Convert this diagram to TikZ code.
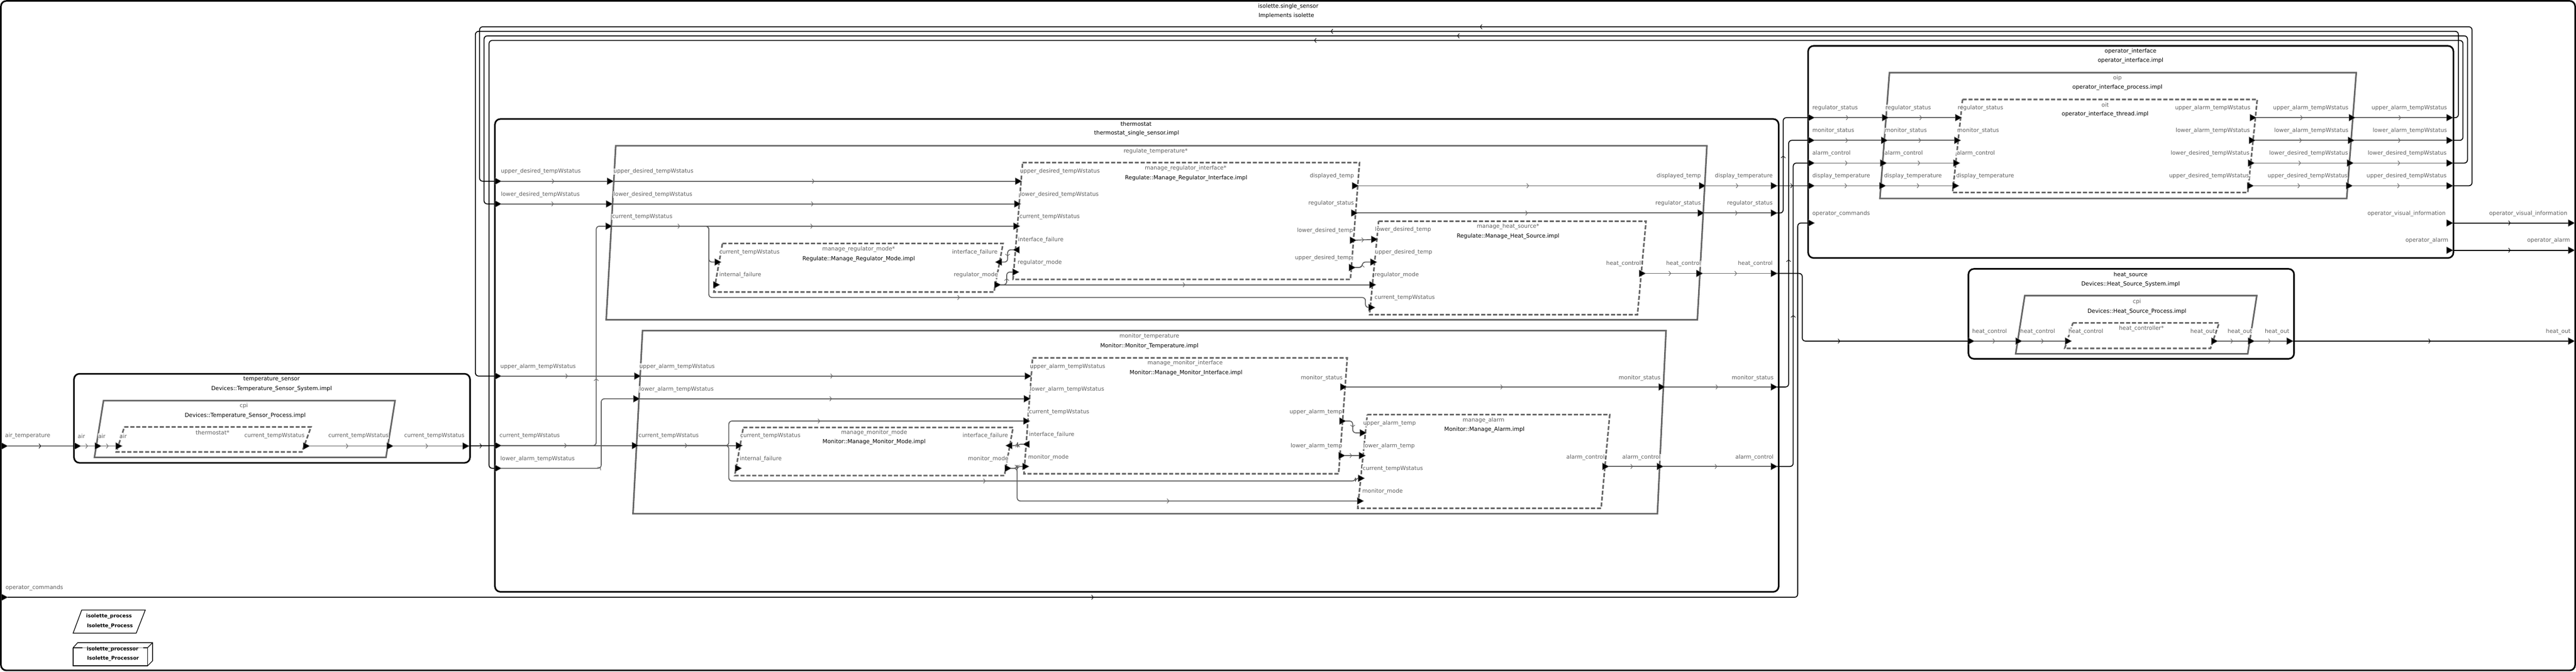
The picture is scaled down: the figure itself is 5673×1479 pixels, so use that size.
\documentclass[tikz,border=0pt]{standalone}
\usepackage{fontspec}
\setmainfont{DejaVu Sans}
\usetikzlibrary{arrows.meta,decorations.markings}
\definecolor{pg}{HTML}{666666}
\definecolor{lg}{HTML}{5E5E5E}
\tikzset{
 sysbox/.style={draw=black,line width=3.5,rounded corners=12},
 procbox/.style={draw=pg,line width=3.5},
 thrbox/.style={draw=pg,line width=3.5,dash pattern=on 9pt off 4pt},
 midarrow/.style={postaction={decorate},decoration={markings,mark=at position 0.5 with {\arrow{Straight Barb[length=4pt,width=10pt,line width=1.1pt]}}}},
 extconn/.style={draw=black,line width=2,rounded corners=7,midarrow},
 intconn/.style={draw=lg,line width=2,rounded corners=7,midarrow},
 plab/.style={text=lg,inner sep=1pt,fill=white,fill opacity=0.8,text opacity=1,font=\fontsize{12.3}{14}\selectfont},
 cname/.style={text=black,inner sep=1pt,font=\fontsize{12.3}{14}\selectfont},
 sname/.style={text=lg,inner sep=1pt,font=\fontsize{12.3}{14}\selectfont},
 legtext/.style={text=black,inner sep=1pt,font=\fontsize{11}{13}\bfseries\selectfont},
 portshape/.style={fill=black,draw=pg,line width=0.8}
}
\newcommand\portR[1]{\filldraw[portshape] ([shift={(-7,-7.5)}]#1) -- ([shift={(7,0)}]#1) -- ([shift={(-7,7.5)}]#1) -- cycle;}
\newcommand\portL[1]{\filldraw[portshape] ([shift={(7,-7.5)}]#1) -- ([shift={(-7,0)}]#1) -- ([shift={(7,7.5)}]#1) -- cycle;}
\begin{document}
\begin{tikzpicture}[x=1pt,y=-1pt]
\useasboundingbox (0,0) rectangle (5673,1479);
% ---------------- boxes
\draw[sysbox] (2,2) rectangle (5671,1476);
\node[cname] (title) at (2837,14) {isolette.single\_sensor};
\node[cname] (titleimpl) at (2833,35) {Implements isolette};
% temperature sensor
\draw[sysbox] (163,823) rectangle (1035,1019);
\draw[procbox] (228,882) -- (870,882) -- (850,1007) -- (208,1007) -- cycle;
\draw[thrbox] (274,940) -- (685,940) -- (665,995) -- (256,995) -- cycle;
\node[cname] (tsn) at (598,835) {temperature\_sensor};
\node[cname] (tst) at (598,856) {Devices::Temperature\_Sensor\_System.impl};
\node[sname] (tscn) at (537,894) {cpi};
\node[cname] (tsct) at (540,915) {Devices::Temperature\_Sensor\_Process.impl};
\node[sname] (tsthn) at (468,953) {thermostat*};
% thermostat
\draw[sysbox] (1090,262) rectangle (3917,1303);
\node[cname] (thn) at (2502,273) {thermostat};
\node[cname] (tht) at (2503,294) {thermostat\_single\_sensor.impl};
\draw[procbox] (1356,321) -- (3759,321) -- (3738,704) -- (1335,704) -- cycle;
\node[sname] (rgn) at (2545,333) {regulate\_temperature*};
\draw[thrbox] (1591,536) -- (2209,536) -- (2189,643) -- (1572,643) -- cycle;
\node[sname] (mrmn) at (1891,549) {manage\_regulator\_mode*};
\node[cname] (mrmt) at (1891,570) {Regulate::Manage\_Regulator\_Mode.impl};
\draw[thrbox] (2252,358) -- (2994,358) -- (2974,615) -- (2231,615) -- cycle;
\node[sname] (mrin) at (2611,371) {manage\_regulator\_interface*};
\node[cname] (mrit) at (2612,392) {Regulate::Manage\_Regulator\_Interface.impl};
\draw[thrbox] (3036,487) -- (3625,487) -- (3606,693) -- (3016,693) -- cycle;
\node[sname] (mhsn) at (3321,499) {manage\_heat\_source*};
\node[cname] (mhst) at (3321,520) {Regulate::Manage\_Heat\_Source.impl};
\draw[procbox] (1415,728) -- (3669,728) -- (3650,1131) -- (1394,1131) -- cycle;
\node[sname] (mnn) at (2531,741) {monitor\_temperature};
\node[cname] (mnt) at (2531,762) {Monitor::Monitor\_Temperature.impl};
\draw[thrbox] (1637,941) -- (2231,941) -- (2212,1047) -- (1618,1047) -- cycle;
\node[sname] (mmmn) at (1925,953) {manage\_monitor\_mode};
\node[cname] (mmmt) at (1925,973) {Monitor::Manage\_Monitor\_Mode.impl};
\draw[thrbox] (2274,788) -- (2967,788) -- (2948,1043) -- (2255,1043) -- cycle;
\node[sname] (mmin) at (2610,800) {manage\_monitor\_interface};
\node[cname] (mmit) at (2612,821) {Monitor::Manage\_Monitor\_Interface.impl};
\draw[thrbox] (3011,913) -- (3545,913) -- (3526,1119) -- (2990,1119) -- cycle;
\node[sname] (man) at (3267,925) {manage\_alarm};
\node[cname] (mat) at (3269,946) {Monitor::Manage\_Alarm.impl};
% operator interface
\draw[sysbox] (3982,101) rectangle (5403,568);
\node[cname] (oin) at (4692,113) {operator\_interface};
\node[cname] (oit) at (4692,134) {operator\_interface.impl};
\draw[procbox] (4161,160) -- (5189,160) -- (5168,437) -- (4140,437) -- cycle;
\node[sname] (oipn) at (4663,172) {oip};
\node[cname] (oipt) at (4663,193) {operator\_interface\_process.impl};
\draw[thrbox] (4322,219) -- (4971,219) -- (4950,424) -- (4300,424) -- cycle;
\node[sname] (oitn) at (4636,231) {oit};
\node[cname] (oitt) at (4636,252) {operator\_interface\_thread.impl};
% heat source
\draw[sysbox] (4335,592) rectangle (5052,790);
\node[cname] (hsn) at (4692,606) {heat\_source};
\node[cname] (hst) at (4692,626) {Devices::Heat\_Source\_System.impl};
\draw[procbox] (4459,651) -- (4970,651) -- (4950,779) -- (4439,779) -- cycle;
\node[sname] (hcn) at (4706,664) {cpi};
\node[cname] (hct) at (4706,686) {Devices::Heat\_Source\_Process.impl};
\draw[thrbox] (4565,711) -- (4887,711) -- (4868,767) -- (4547,767) -- cycle;
\node[sname] (hthn) at (4716,723) {heat\_controller*};
% legend
\draw[black,line width=1.5] (180,1343) -- (320,1343) -- (300,1394) -- (161,1394) -- cycle;
\node[legtext] (lg1) at (240,1357) {isolette\_process};
\node[legtext] (lg2) at (242,1378) {Isolette\_Process};
\draw[black,line width=1.5] (161,1426) -- (161,1466) -- (325,1466) -- (325,1426);
\draw[black!25,line width=1.5] (181,1426) -- (315,1426);
\draw[black,line width=1.5] (161,1426) -- (181,1426) (315,1426) -- (325,1426);
\draw[black,line width=1.5] (161,1426) -- (171,1415) -- (336,1415) -- (336,1455) -- (325,1466) (325,1426) -- (336,1415);
\node[legtext] (lg3) at (248,1429) {isolette\_processor};
\node[legtext] (lg4) at (249,1450) {Isolette\_Processor};
% ---------------- port coordinates
\coordinate (oair) at (10,982);
\coordinate (ocmd) at (10,1315);
\coordinate (ovis) at (5663,491);
\coordinate (oalm) at (5663,551);
\coordinate (oheat) at (5663,751);
\coordinate (tsair) at (171,982);
\coordinate (tscur) at (1026,982);
\coordinate (cpiair) at (216,982);
\coordinate (cpicur) at (859,982);
\coordinate (thair) at (262,982);
\coordinate (thcur) at (675,982);
\coordinate (tud) at (1097,399);
\coordinate (tld) at (1097,449);
\coordinate (tua) at (1097,828);
\coordinate (tct) at (1097,981);
\coordinate (tla) at (1097,1031);
\coordinate (tdisp) at (3907,409);
\coordinate (trs) at (3907,469);
\coordinate (thc) at (3907,602);
\coordinate (tms) at (3907,852);
\coordinate (tac) at (3907,1027);
\coordinate (rud) at (1344,399);
\coordinate (rld) at (1342,449);
\coordinate (rct) at (1341,498);
\coordinate (rdisp) at (3749,409);
\coordinate (rrs) at (3746,469);
\coordinate (rhc) at (3743,602);
\coordinate (mrmct) at (1581,577);
\coordinate (mrmif) at (1578,627);
\coordinate (mrmfail) at (2199,577);
\coordinate (mrmmode) at (2197,627);
\coordinate (mriud) at (2243,399);
\coordinate (mrild) at (2241,449);
\coordinate (mrict) at (2239,498);
\coordinate (mrifail) at (2238,550);
\coordinate (mrimode) at (2237,599);
\coordinate (mridisp) at (2985,409);
\coordinate (mrirs) at (2983,469);
\coordinate (mrildo) at (2980,529);
\coordinate (mriudo) at (2978,589);
\coordinate (mhsld) at (3027,527);
\coordinate (mhsud) at (3025,577);
\coordinate (mhsmode) at (3023,627);
\coordinate (mhsct) at (3021,677);
\coordinate (mhshc) at (3617,602);
\coordinate (mnua) at (1404,828);
\coordinate (mnla) at (1402,878);
\coordinate (mnct) at (1399,981);
\coordinate (mnms) at (3660,852);
\coordinate (mnac) at (3656,1027);
\coordinate (mmmct) at (1628,981);
\coordinate (mmmif) at (1626,1031);
\coordinate (mmmfail) at (2222,981);
\coordinate (mmmmode) at (2220,1031);
\coordinate (mmiua) at (2264,828);
\coordinate (mmila) at (2262,878);
\coordinate (mmict) at (2261,927);
\coordinate (mmifail) at (2260,978);
\coordinate (mmimode) at (2259,1027);
\coordinate (mmims) at (2959,852);
\coordinate (mmiuao) at (2957,927);
\coordinate (mmilao) at (2955,1003);
\coordinate (maua) at (3002,953);
\coordinate (mala) at (3000,1003);
\coordinate (mact) at (2998,1053);
\coordinate (mamode) at (2996,1103);
\coordinate (maac) at (3536,1027);
\coordinate (oirs) at (3989,259);
\coordinate (oims) at (3989,309);
\coordinate (oiac) at (3989,359);
\coordinate (oidt) at (3989,409);
\coordinate (oicmd) at (3989,491);
\coordinate (oiua) at (5395,259);
\coordinate (oila) at (5395,309);
\coordinate (oild) at (5395,359);
\coordinate (oiud) at (5395,409);
\coordinate (oivis) at (5395,491);
\coordinate (oialm) at (5395,551);
\coordinate (oiprs) at (4152,259);
\coordinate (oipms) at (4150,309);
\coordinate (oipac) at (4148,359);
\coordinate (oipdt) at (4146,409);
\coordinate (oipua) at (5180,259);
\coordinate (oipla) at (5178,309);
\coordinate (oipld) at (5176,359);
\coordinate (oipud) at (5174,409);
\coordinate (oitrs) at (4313,259);
\coordinate (oitms) at (4311,309);
\coordinate (oitac) at (4309,359);
\coordinate (oitdt) at (4307,409);
\coordinate (oitua) at (4962,259);
\coordinate (oitla) at (4960,309);
\coordinate (oitld) at (4958,359);
\coordinate (oitud) at (4956,409);
\coordinate (hsin) at (4341,751);
\coordinate (hcpiin) at (4446,751);
\coordinate (hthin) at (4555,751);
\coordinate (hthout) at (4877,751);
\coordinate (hcpiout) at (4958,751);
\coordinate (hsout) at (5043,751);
% ---------------- top level connectors
\draw[extconn] (oair) -- (tsair);
\draw[extconn] (tscur) -- (tct);
\draw[extconn] (oiud) -- (5444,409) -- (5444,59) -- (1056,59) -- (1056,399) -- (tud);
\draw[extconn] (oiua) -- (5414,259) -- (5414,69) -- (1047,69) -- (1047,828) -- (tua);
\draw[extconn] (oild) -- (5434,359) -- (5434,79) -- (1066,79) -- (1066,449) -- (tld);
\draw[extconn] (oila) -- (5424,309) -- (5424,89) -- (1077,89) -- (1077,1031) -- (tla);
\draw[extconn] (tdisp) -- (oidt);
\draw[extconn] (trs) -- (3927,469) -- (3927,259) -- (oirs);
\draw[extconn] (tms) -- (3939,852) -- (3939,309) -- (oims);
\draw[extconn] (tac) -- (3949,1027) -- (3949,359) -- (oiac);
\draw[extconn] (ocmd) -- (3959,1315) -- (3959,491) -- (oicmd);
\draw[extconn] (thc) -- (3969,602) -- (3969,751) -- (hsin);
\draw[extconn] (oivis) -- (ovis);
\draw[extconn] (oialm) -- (oalm);
\draw[extconn] (hsout) -- (oheat);
% ---------------- internal connectors
\draw[intconn] (tsair) -- (cpiair);
\draw[intconn] (cpiair) -- (thair);
\draw[intconn] (thcur) -- (cpicur);
\draw[intconn] (cpicur) -- (tscur);
\draw[intconn] (hsin) -- (hcpiin);
\draw[intconn] (hcpiin) -- (hthin);
\draw[intconn] (hthout) -- (hcpiout);
\draw[intconn] (hcpiout) -- (hsout);
\draw[intconn] (oirs) -- (oiprs);
\draw[intconn] (oims) -- (oipms);
\draw[intconn] (oiac) -- (oipac);
\draw[intconn] (oidt) -- (oipdt);
\draw[intconn] (oiprs) -- (oitrs);
\draw[intconn] (oipms) -- (oitms);
\draw[intconn] (oipac) -- (oitac);
\draw[intconn] (oipdt) -- (oitdt);
\draw[intconn] (oitua) -- (oipua);
\draw[intconn] (oitla) -- (oipla);
\draw[intconn] (oitld) -- (oipld);
\draw[intconn] (oitud) -- (oipud);
\draw[intconn] (oipua) -- (oiua);
\draw[intconn] (oipla) -- (oila);
\draw[intconn] (oipld) -- (oild);
\draw[intconn] (oipud) -- (oiud);
% thermostat -> regulate / monitor
\draw[intconn] (tud) -- (rud);
\draw[intconn] (tld) -- (rld);
\draw[intconn] (tct) -- (1313,981) -- (1313,498) -- (rct);
\draw[intconn] (tct) -- (mnct);
\draw[intconn] (tua) -- (mnua);
\draw[intconn] (tla) -- (1324,1031) -- (1324,878) -- (mnla);
% regulate internals
\draw[intconn] (rud) -- (mriud);
\draw[intconn] (rld) -- (mrild);
\draw[intconn] (rct) -- (mrict);
\draw[intconn] (rct) -- (1561,498) -- (1561,577) -- (mrmct);
\draw[intconn] (rct) -- (1561,498) -- (1561,655) -- (3007,655) -- (3007,677) -- (mhsct);
\draw[intconn] (mrifail) -- (2219,550) -- (2219,577) -- (mrmfail);
\draw[intconn] (mrmmode) -- (2217,627) -- (2217,599) -- (mrimode);
\draw[intconn] (mrmmode) -- (mhsmode);
\draw[intconn] (mridisp) -- (rdisp);
\draw[intconn] (rdisp) -- (tdisp);
\draw[intconn] (mrirs) -- (rrs);
\draw[intconn] (rrs) -- (trs);
\draw[intconn] (mrildo) -- (mhsld);
\draw[intconn] (mriudo) -- (3000,589) -- (3000,577) -- (mhsud);
\draw[intconn] (mhshc) -- (rhc);
\draw[intconn] (rhc) -- (thc);
% monitor internals
\draw[intconn] (mnua) -- (mmiua);
\draw[intconn] (mnla) -- (mmila);
\draw[intconn] (mnct) -- (mmmct);
\draw[intconn] (mnct) -- (1605,981) -- (1605,927) -- (mmict);
\draw[intconn] (mnct) -- (1605,981) -- (1605,1059) -- (2985,1059) -- (2985,1053) -- (mact);
\draw[intconn] (mmifail) -- (2241,978) -- (2241,981) -- (mmmfail);
\draw[intconn] (mmmmode) -- (2240,1031) -- (2240,1027) -- (mmimode);
\draw[intconn] (mmmmode) -- (2240,1031) -- (2240,1103) -- (mamode);
\draw[intconn] (mmims) -- (mnms);
\draw[intconn] (mnms) -- (tms);
\draw[intconn] (mmiuao) -- (2979,927) -- (2979,953) -- (maua);
\draw[intconn] (mmilao) -- (mala);
\draw[intconn] (maac) -- (mnac);
\draw[intconn] (mnac) -- (tac);
% ---------------- ports
\foreach \p in {oair,ocmd,ovis,oalm,oheat,tsair,tscur,cpiair,cpicur,thair,thcur,
 tud,tld,tua,tct,tla,tdisp,trs,thc,tms,tac,rud,rld,rct,rdisp,rrs,rhc,
 mrmct,mrmif,mrmmode,mriud,mrild,mrict,mrimode,mridisp,mrirs,mrildo,mriudo,
 mhsld,mhsud,mhsmode,mhsct,mhshc,mnua,mnla,mnct,mnms,mnac,mmmct,mmmif,mmmmode,
 mmiua,mmila,mmict,mmimode,mmims,mmiuao,mmilao,maua,mala,mact,mamode,maac,
 oirs,oims,oiac,oidt,oicmd,oiua,oila,oild,oiud,oivis,oialm,
 oiprs,oipms,oipac,oipdt,oipua,oipla,oipld,oipud,
 oitrs,oitms,oitac,oitdt,oitua,oitla,oitld,oitud,
 hsin,hcpiin,hthin,hthout,hcpiout,hsout}{\portR{\p}}
\foreach \p in {mrifail,mrmfail,mmifail,mmmfail}{\portL{\p}}
% ---------------- port labels
\node[plab,anchor=west] (la1) at (10,960) {air\_temperature};
\node[plab,anchor=west] (la2) at (11,1294) {operator\_commands};
\node[plab,anchor=east] (la3) at (5655,470) {operator\_visual\_information};
\node[plab,anchor=east] (la4) at (5661,530) {operator\_alarm};
\node[plab,anchor=east] (la5) at (5662,730) {heat\_out};
% temperature sensor
\node[plab,anchor=west] (lb1) at (170,960) {air};
\node[plab,anchor=west] (lb2) at (215,960) {air};
\node[plab,anchor=west] (lb3) at (262,960) {air};
\node[plab,anchor=east] (lb4) at (672,960) {current\_tempWstatus};
\node[plab,anchor=east] (lb5) at (857,960) {current\_tempWstatus};
\node[plab,anchor=east] (lb6) at (1024,960) {current\_tempWstatus};
% thermostat left
\node[plab,anchor=west] (lc1) at (1102,378) {upper\_desired\_tempWstatus};
\node[plab,anchor=west] (lc2) at (1102,428) {lower\_desired\_tempWstatus};
\node[plab,anchor=west] (lc3) at (1101,807) {upper\_alarm\_tempWstatus};
\node[plab,anchor=west] (lc4) at (1099,960) {current\_tempWstatus};
\node[plab,anchor=west] (lc5) at (1101,1010) {lower\_alarm\_tempWstatus};
% regulate
\node[plab,anchor=west] (ld1) at (1350,378) {upper\_desired\_tempWstatus};
\node[plab,anchor=west] (ld2) at (1350,428) {lower\_desired\_tempWstatus};
\node[plab,anchor=west] (ld3) at (1347,478) {current\_tempWstatus};
\node[plab,anchor=west] (ld4) at (1583,556) {current\_tempWstatus};
\node[plab,anchor=west] (ld5) at (1583,606) {internal\_failure};
\node[plab,anchor=east] (ld6) at (2198,556) {interface\_failure};
\node[plab,anchor=east] (ld7) at (2199,606) {regulator\_mode};
\node[plab,anchor=west] (ld8) at (2245,378) {upper\_desired\_tempWstatus};
\node[plab,anchor=west] (ld9) at (2245,428) {lower\_desired\_tempWstatus};
\node[plab,anchor=west] (ld10) at (2244,478) {current\_tempWstatus};
\node[plab,anchor=west] (ld11) at (2241,528) {interface\_failure};
\node[plab,anchor=west] (ld12) at (2240,578) {regulator\_mode};
\node[plab,anchor=east] (ld13) at (2983,388) {displayed\_temp};
\node[plab,anchor=east] (ld14) at (2983,448) {regulator\_status};
\node[plab,anchor=east] (ld15) at (2981,508) {lower\_desired\_temp};
\node[plab,anchor=east] (ld16) at (2979,568) {upper\_desired\_temp};
\node[plab,anchor=west] (ld17) at (3027,506) {lower\_desired\_temp};
\node[plab,anchor=west] (ld18) at (3027,556) {upper\_desired\_temp};
\node[plab,anchor=west] (ld19) at (3026,606) {regulator\_mode};
\node[plab,anchor=west] (ld20) at (3026,656) {current\_tempWstatus};
\node[plab,anchor=east] (ld21) at (3615,581) {heat\_control};
\node[plab,anchor=east] (ld22) at (3747,388) {displayed\_temp};
\node[plab,anchor=east] (ld23) at (3747,448) {regulator\_status};
\node[plab,anchor=east] (ld24) at (3747,581) {heat\_control};
% thermostat right
\node[plab,anchor=east] (le1) at (3905,388) {display\_temperature};
\node[plab,anchor=east] (le2) at (3905,448) {regulator\_status};
\node[plab,anchor=east] (le3) at (3905,581) {heat\_control};
\node[plab,anchor=east] (le4) at (3907,832) {monitor\_status};
\node[plab,anchor=east] (le5) at (3907,1007) {alarm\_control};
% monitor
\node[plab,anchor=west] (lf1) at (1407,807) {upper\_alarm\_tempWstatus};
\node[plab,anchor=west] (lf2) at (1407,857) {lower\_alarm\_tempWstatus};
\node[plab,anchor=west] (lf3) at (1405,960) {current\_tempWstatus};
\node[plab,anchor=west] (lf4) at (1629,960) {current\_tempWstatus};
\node[plab,anchor=west] (lf5) at (1628,1010) {internal\_failure};
\node[plab,anchor=east] (lf6) at (2221,960) {interface\_failure};
\node[plab,anchor=east] (lf7) at (2222,1010) {monitor\_mode};
\node[plab,anchor=west] (lf8) at (2267,807) {upper\_alarm\_tempWstatus};
\node[plab,anchor=west] (lf9) at (2267,857) {lower\_alarm\_tempWstatus};
\node[plab,anchor=west] (lf10) at (2265,907) {current\_tempWstatus};
\node[plab,anchor=west] (lf11) at (2265,957) {interface\_failure};
\node[plab,anchor=west] (lf12) at (2263,1007) {monitor\_mode};
\node[plab,anchor=east] (lf13) at (2958,832) {monitor\_status};
\node[plab,anchor=east] (lf14) at (2957,907) {upper\_alarm\_temp};
\node[plab,anchor=east] (lf15) at (2957,982) {lower\_alarm\_temp};
\node[plab,anchor=west] (lf16) at (3001,932) {upper\_alarm\_temp};
\node[plab,anchor=west] (lf17) at (3001,982) {lower\_alarm\_temp};
\node[plab,anchor=west] (lf18) at (3000,1032) {current\_tempWstatus};
\node[plab,anchor=west] (lf19) at (2999,1082) {monitor\_mode};
\node[plab,anchor=east] (lf20) at (3535,1007) {alarm\_control};
\node[plab,anchor=east] (lf21) at (3658,832) {monitor\_status};
\node[plab,anchor=east] (lf22) at (3658,1007) {alarm\_control};
% operator interface
\node[plab,anchor=west] (lg5) at (3990,238) {regulator\_status};
\node[plab,anchor=west] (lg6) at (3990,288) {monitor\_status};
\node[plab,anchor=west] (lg7) at (3990,338) {alarm\_control};
\node[plab,anchor=west] (lg8) at (3990,388) {display\_temperature};
\node[plab,anchor=west] (lg9) at (3990,470) {operator\_commands};
\node[plab,anchor=west] (lg10) at (4151,238) {regulator\_status};
\node[plab,anchor=west] (lg11) at (4150,288) {monitor\_status};
\node[plab,anchor=west] (lg12) at (4149,338) {alarm\_control};
\node[plab,anchor=west] (lg13) at (4148,388) {display\_temperature};
\node[plab,anchor=west] (lg14) at (4310,238) {regulator\_status};
\node[plab,anchor=west] (lg15) at (4309,288) {monitor\_status};
\node[plab,anchor=west] (lg16) at (4308,338) {alarm\_control};
\node[plab,anchor=west] (lg17) at (4307,388) {display\_temperature};
\node[plab,anchor=east] (lg18) at (4957,238) {upper\_alarm\_tempWstatus};
\node[plab,anchor=east] (lg19) at (4956,288) {lower\_alarm\_tempWstatus};
\node[plab,anchor=east] (lg20) at (4955,338) {lower\_desired\_tempWstatus};
\node[plab,anchor=east] (lg21) at (4954,388) {upper\_desired\_tempWstatus};
\node[plab,anchor=east] (lg22) at (5173,238) {upper\_alarm\_tempWstatus};
\node[plab,anchor=east] (lg23) at (5173,288) {lower\_alarm\_tempWstatus};
\node[plab,anchor=east] (lg24) at (5172,338) {lower\_desired\_tempWstatus};
\node[plab,anchor=east] (lg25) at (5171,388) {upper\_desired\_tempWstatus};
\node[plab,anchor=east] (lg26) at (5390,238) {upper\_alarm\_tempWstatus};
\node[plab,anchor=east] (lg27) at (5390,288) {lower\_alarm\_tempWstatus};
\node[plab,anchor=east] (lg28) at (5389,338) {lower\_desired\_tempWstatus};
\node[plab,anchor=east] (lg29) at (5389,388) {upper\_desired\_tempWstatus};
\node[plab,anchor=east] (lg30) at (5387,470) {operator\_visual\_information};
\node[plab,anchor=east] (lg31) at (5393,530) {operator\_alarm};
% heat source
\node[plab,anchor=west] (lh1) at (4342,730) {heat\_control};
\node[plab,anchor=west] (lh2) at (4448,730) {heat\_control};
\node[plab,anchor=west] (lh3) at (4554,730) {heat\_control};
\node[plab,anchor=east] (lh4) at (4879,730) {heat\_out};
\node[plab,anchor=east] (lh5) at (4961,730) {heat\_out};
\node[plab,anchor=east] (lh6) at (5043,730) {heat\_out};
\end{tikzpicture}
\end{document}
